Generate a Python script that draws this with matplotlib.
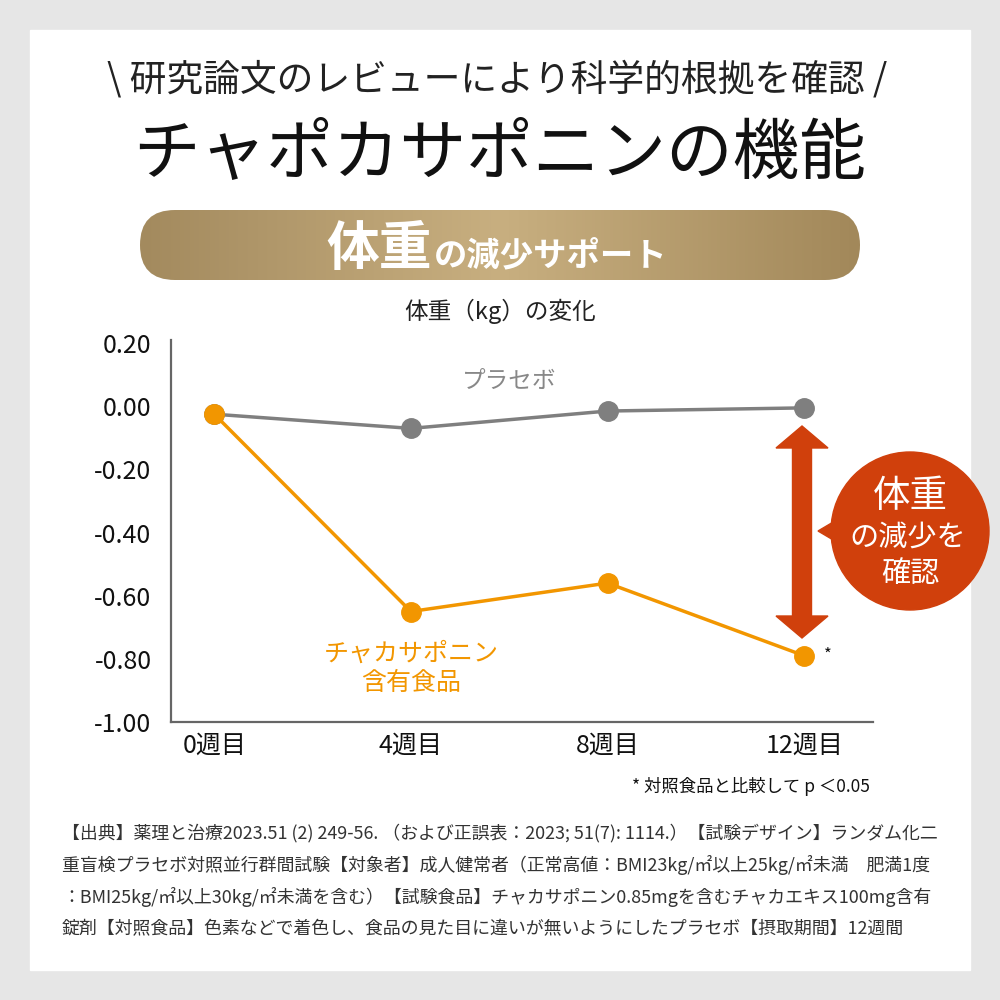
import numpy as np
import matplotlib
matplotlib.use("Agg")
import matplotlib.pyplot as plt
from matplotlib.patches import FancyBboxPatch, Circle, Polygon, Rectangle

plt.rcParams['font.family'] = ['Noto Sans CJK JP', 'DejaVu Sans']

# data
weeks = ['0週目', '4週目', '8週目', '12週目']
placebo = [-0.025, -0.07, -0.015, -0.005]
saponin = [-0.025, -0.65, -0.56, -0.79]
yticks = [0.20, 0.00, -0.20, -0.40, -0.60, -0.80, -1.00]

notes = [
    '【出典】薬理と治療2023.51 (2) 249-56. （および正誤表：2023; 51(7): 1114.）【試験デザイン】ランダム化二',
    '重盲検プラセボ対照並行群間試験【対象者】成人健常者（正常高値：BMI23kg/㎡以上25kg/㎡未満　肥満1度',
    '：BMI25kg/㎡以上30kg/㎡未満を含む）【試験食品】チャカサポニン0.85mgを含むチャカエキス100mg含有',
    '錠剤【対照食品】色素などで着色し、食品の見た目に違いが無いようにしたプラセボ【摂取期間】12週間',
]

ORANGE = '#f29600'
GRAY = '#7f7f7f'
RED = '#d0400c'

fig = plt.figure(figsize=(10, 10), dpi=100)
fig.patch.set_facecolor('#e6e6e6')

# overlay in pixel coordinates for decorations
bg = fig.add_axes([0, 0, 1, 1])
bg.set_xlim(0, 1000)
bg.set_ylim(1000, 0)
bg.axis('off')
bg.add_patch(Rectangle((30, 30), 940, 940, color='white', zorder=0))

bg.text(497, 80, '\\ 研究論文のレビューにより科学的根拠を確認 /', ha='center', va='center',
        fontsize=26.5, color='#222222')
bg.text(500, 155, 'チャポカサポニンの機能', ha='center', va='center',
        fontsize=48, color='#111111')

# gold pill with gradient
pill = FancyBboxPatch((140, 210), 720, 70, boxstyle='round,pad=0,rounding_size=35',
                      facecolor='none', edgecolor='none')
bg.add_patch(pill)
gold = matplotlib.colors.LinearSegmentedColormap.from_list(
    'gold', ['#a38a5e', '#c8af80', '#a2885a'])
grad = np.linspace(0, 1, 256).reshape(1, -1)
im = bg.imshow(grad, cmap=gold, extent=(140, 860, 280, 210), aspect='auto', zorder=1)
im.set_clip_path(pill)
bg.set_xlim(0, 1000)
bg.set_ylim(1000, 0)
bg.text(432, 265, '体重', ha='right', va='baseline', fontsize=38, fontweight='bold',
        color='white', zorder=2)
bg.text(434, 265, 'の減少サポート', ha='left', va='baseline', fontsize=24, fontweight='bold',
        color='white', zorder=2)

bg.text(500, 311, '体重（kg）の変化', ha='center', va='center', fontsize=17, color='#222222')

# main chart
ax = fig.add_axes([0.171, 0.278, 0.702, 0.382])
ax.patch.set_alpha(0)
x = np.arange(len(weeks))
ax.plot(x, placebo, color=GRAY, lw=2.5, marker='o', ms=14, zorder=3)
ax.plot(x, saponin, color=ORANGE, lw=2.5, marker='o', ms=14, zorder=3)
ax.set_xlim(-0.22, 3.35)
ax.set_ylim(-1.0, 0.21)
ax.set_yticks(yticks)
ax.set_yticklabels([f'{v:.2f}' for v in yticks], fontsize=18, color='#111111')
ax.set_xticks(x)
ax.set_xticklabels(weeks, fontsize=18, color='#111111')
ax.tick_params(length=0, pad=14, axis='y')
ax.tick_params(length=0, pad=8, axis='x')
for s in ['top', 'right']:
    ax.spines[s].set_visible(False)
for s in ['left', 'bottom']:
    ax.spines[s].set_color('#666666')
    ax.spines[s].set_linewidth(1.6)

ax.text(1.5, 0.08, 'プラセボ', ha='center', va='center', fontsize=17, color='#888888')
ax.text(1.0, -0.83, 'チャカサポニン\n含有食品', ha='center', va='center', fontsize=18,
        color=ORANGE, linespacing=1.2)
ax.text(3.1, -0.79, '*', ha='left', va='center', fontsize=12, color='#111111')

# red double arrow
cx, top, bot = 802, 426, 638
sw, hw, hl = 9.5, 26, 22
arrow = [(cx, top), (cx + hw, top + hl), (cx + sw, top + hl), (cx + sw, bot - hl),
         (cx + hw, bot - hl), (cx, bot), (cx - hw, bot - hl), (cx - sw, bot - hl),
         (cx - sw, top + hl), (cx - hw, top + hl)]
bg.add_patch(Polygon(arrow, closed=True, color=RED, zorder=4))

# speech bubble
bg.add_patch(Circle((910, 531), 79, color=RED, zorder=4))
bg.add_patch(Polygon([(818, 531), (840, 518), (840, 544)], closed=True, color=RED, zorder=4))
bg.text(910, 496, '体重', ha='center', va='center', fontsize=27, color='white', zorder=5)
bg.text(908, 538, 'の減少を', ha='center', va='center', fontsize=21, color='white', zorder=5)
bg.text(910, 574, '確認', ha='center', va='center', fontsize=21, color='white', zorder=5)

bg.text(870, 786, '* 対照食品と比較して p ＜0.05', ha='right', va='center', fontsize=12.5,
        color='#111111')

# footnote, fitted to the panel width
ys = [833, 865, 897, 929]
txts = [bg.text(62, y, t, ha='left', va='center', fontsize=10, color='#333333')
        for t, y in zip(notes, ys)]
fig.canvas.draw()
r = fig.canvas.get_renderer()
w0 = txts[0].get_window_extent(r).width
fs = 10 * 878 / w0
for t in txts:
    t.set_fontsize(fs)

fig.savefig('out.png', dpi=100, facecolor=fig.get_facecolor())
